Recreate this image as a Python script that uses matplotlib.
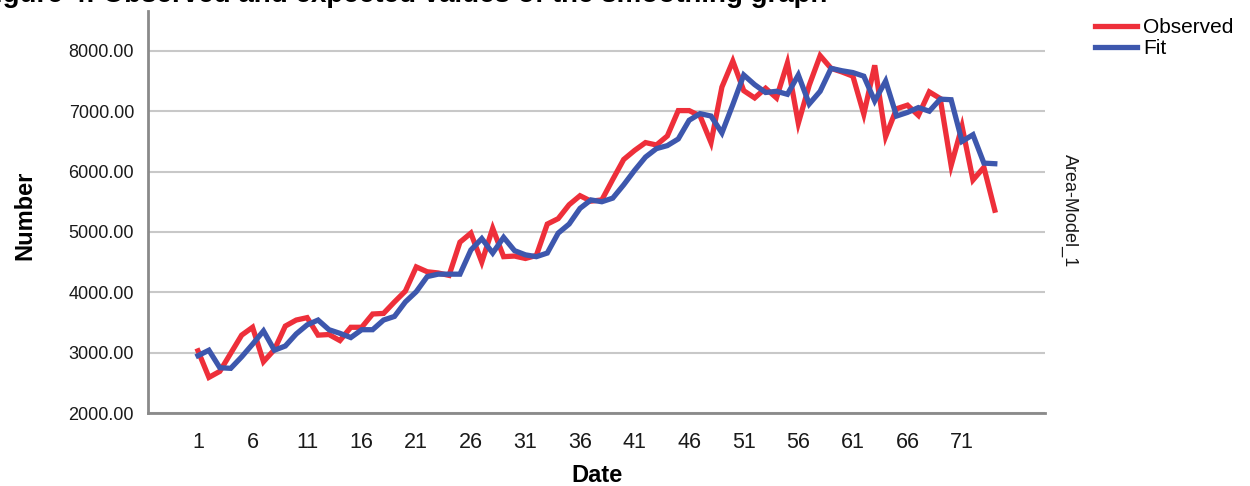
import matplotlib
matplotlib.use("Agg")
import matplotlib.pyplot as plt
import numpy as np

# values
dates = list(range(1, 75))
observed = [3030, 2590, 2690, 2990, 3290, 3420, 2850, 3050, 3440, 3540,
            3580, 3290, 3300, 3200, 3420, 3420, 3640, 3650, 3840, 4020,
            4420, 4340, 4320, 4280, 4830, 4980, 4500, 5060, 4590, 4600,
            4560, 4610, 5130, 5220, 5450, 5600, 5510, 5530, 5870, 6200,
            6350, 6480, 6440, 6590, 7010, 7010, 6920, 6480, 7400, 7830,
            7340, 7220, 7380, 7220, 7800, 6800, 7430, 7920, 7710, 7650,
            7580, 6950, 7760, 6580, 7040, 7100, 6930, 7320, 7210, 6100,
            6750, 5860, 6070, 5360]
fit = [2950, 3040, 2750, 2740, 2930, 3140, 3360, 3040, 3110, 3310,
       3460, 3540, 3380, 3320, 3250, 3380, 3380, 3540, 3600, 3840,
       4010, 4260, 4300, 4300, 4300, 4700, 4890, 4650, 4910, 4690,
       4620, 4590, 4650, 4980, 5130, 5390, 5530, 5500, 5560, 5780,
       6020, 6240, 6380, 6430, 6540, 6850, 6960, 6920, 6640, 7110,
       7600, 7440, 7310, 7330, 7280, 7600, 7120, 7330, 7710, 7670,
       7640, 7580, 7170, 7500, 6920, 6980, 7060, 7000, 7200, 7190,
       6500, 6610, 6140, 6130]
x_ticks = list(range(1, 75, 5))
y_ticks = [2000, 3000, 4000, 5000, 6000, 7000, 8000]

plt.rcParams['font.family'] = ['Liberation Sans', 'DejaVu Sans']

W, H = 1250, 486
fig = plt.figure(figsize=(W / 100, H / 100), dpi=100)
ax = fig.add_axes([148 / W, 1 - 413 / H, (1045 - 148) / W, (413 - 11) / H])

ax.plot(dates, observed, color='#EE2F3A', lw=3.8, label='Observed',
        solid_joinstyle='miter')
ax.plot(dates, fit, color='#3D57AD', lw=3.8, label='Fit',
        solid_joinstyle='miter')

ax.set_xlim(-3.58, 78.6)
ax.set_ylim(2000, 8660)
ax.set_xticks(x_ticks)
ax.set_yticks(y_ticks)
ax.set_yticklabels(['{:.2f}'.format(v) for v in y_ticks])
ax.tick_params(axis='y', length=0, pad=10, labelsize=13, colors='#1A1A1A')
ax.tick_params(axis='x', length=0, pad=14, labelsize=15.5, colors='#1A1A1A')

ax.grid(axis='y', color='#C8C8C8', lw=1.5)
ax.set_axisbelow(True)
for side in ['top', 'right']:
    ax.spines[side].set_visible(False)
for side in ['left', 'bottom']:
    ax.spines[side].set_color('#8A8A8A')
    ax.spines[side].set_linewidth(2)

fig.text(25 / W, 1 - 215 / H, 'Number', rotation=90, fontsize=17,
         fontweight='bold', ha='center', va='center')
fig.text(597 / W, 1 - 475 / H, 'Date', fontsize=17, fontweight='bold',
         ha='center', va='center')
fig.text(1070 / W, 1 - 211 / H, 'Area-Model_1', rotation=270, fontsize=13,
         ha='center', va='center', color='#1A1A1A')

# caption above the chart, cut off by the top edge as in the reference
fig.text(-22 / W, 1 - 2 / H, 'Figure 4: Observed and expected values of the smoothing graph',
         fontsize=20, fontweight='bold', ha='left', va='baseline')

fig.legend(loc='upper left', bbox_to_anchor=(1085 / W, 1 - 8 / H),
           frameon=False, fontsize=15, handlelength=2.0, handletextpad=0.3,
           labelspacing=0.1, borderpad=0)

fig.savefig('out.png', dpi=100)
